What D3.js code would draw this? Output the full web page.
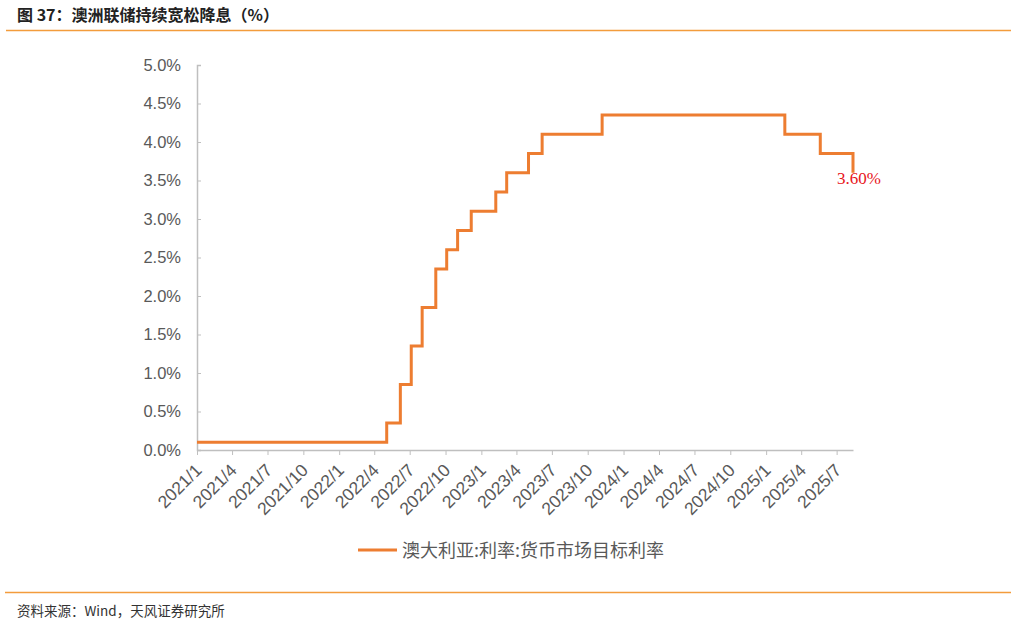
<!DOCTYPE html>
<html>
<head>
<meta charset="utf-8">
<script src="https://cdn.jsdelivr.net/npm/d3@7"></script>
<style>
  body { margin: 0; background: #fff; }
  svg { display: block; }
</style>
</head>
<body>
<svg id="chart" width="1017" height="621"></svg>
<script>
// ---- data ----
const title = "图 37：澳洲联储持续宽松降息（%）";
const source = "资料来源：Wind，天风证券研究所";
const seriesName = "澳大利亚:利率:货币市场目标利率";
// rate change dates and the cash-rate target (%) effective from each date
const changeDates = ["2021-01-01","2022-05-03","2022-06-07","2022-07-05","2022-08-02","2022-09-06","2022-10-04","2022-11-01","2022-12-06","2023-02-07","2023-03-07","2023-05-02","2023-06-06","2023-11-07","2025-02-18","2025-05-20","2025-08-12"];
const rates =       [0.10, 0.35, 0.85, 1.35, 1.85, 2.35, 2.60, 2.85, 3.10, 3.35, 3.60, 3.85, 4.10, 4.35, 4.10, 3.85, 3.60];
const yTicks = [0, 0.5, 1.0, 1.5, 2.0, 2.5, 3.0, 3.5, 4.0, 4.5, 5.0];
const xTickDates = ["2021-01-01","2021-04-01","2021-07-01","2021-10-01","2022-01-01","2022-04-01","2022-07-01","2022-10-01","2023-01-01","2023-04-01","2023-07-01","2023-10-01","2024-01-01","2024-04-01","2024-07-01","2024-10-01","2025-01-01","2025-04-01","2025-07-01"];
const lastLabel = "3.60%";

const parse = d3.utcParse("%Y-%m-%d");
const data = changeDates.map((d, i) => ({ date: parse(d), value: rates[i] }));

const svg = d3.select("#chart");
const orange = "#F39C3C";
const lineColor = "#ED7D31";
const textGray = "#595959";
const axisGray = "#BFBFBF";

// title + rules
svg.append("text").attr("x", 17).attr("y", 20.5)
  .attr("font-family", "'Noto Sans CJK SC', sans-serif").attr("font-weight", "bold")
  .attr("font-size", 16).attr("fill", "#222").text(title);
svg.append("line").attr("x1", 6).attr("x2", 1011).attr("y1", 30.5).attr("y2", 30.5)
  .attr("stroke", orange).attr("stroke-width", 1.5);
svg.append("line").attr("x1", 5).attr("x2", 1011).attr("y1", 592.5).attr("y2", 592.5)
  .attr("stroke", orange).attr("stroke-width", 1.5);
svg.append("text").attr("x", 17).attr("y", 616)
  .attr("font-family", "'Noto Sans CJK SC', sans-serif")
  .attr("font-size", 13.5).attr("fill", "#333").text(source);

// scales
const x = d3.scaleUtc().domain([parse("2021-01-01"), parse("2025-08-12")]).range([197, 853]);
const y = d3.scaleLinear().domain([0, 5]).range([450, 65]);

// y axis
const yAxis = svg.append("g").attr("transform", "translate(197,0)")
  .call(d3.axisLeft(y).tickValues(yTicks).tickSize(-4).tickPadding(16)
    .tickFormat(d => d3.format(".1f")(d) + "%"));
yAxis.select(".domain").attr("stroke", axisGray).attr("stroke-width", 1.5);
yAxis.selectAll(".tick line").attr("stroke", axisGray);
yAxis.selectAll(".tick text").attr("fill", textGray)
  .attr("font-family", "'Liberation Sans', Arial, sans-serif").attr("font-size", 16.5);

// x axis
const fmt = d => d.getUTCFullYear() + "/" + (d.getUTCMonth() + 1);
const xAxis = svg.append("g").attr("transform", "translate(0,450)")
  .call(d3.axisBottom(x).tickValues(xTickDates.map(parse)).tickSize(5).tickSizeOuter(0).tickFormat(fmt));
xAxis.select(".domain").attr("stroke", axisGray).attr("stroke-width", 1.5);
xAxis.selectAll(".tick line").attr("stroke", axisGray);
xAxis.selectAll(".tick text").attr("fill", textGray)
  .attr("font-family", "'Liberation Sans', Arial, sans-serif").attr("font-size", 17.5)
  .attr("text-anchor", "end")
  .attr("transform", "translate(1,17) rotate(-45)")
  .attr("dy", "0.35em").attr("y", 0).attr("x", 0);

// line
const line = d3.line().x(d => x(d.date)).y(d => y(d.value)).curve(d3.curveStepAfter);
svg.append("path").datum(data).attr("d", line)
  .attr("fill", "none").attr("stroke", lineColor).attr("stroke-width", 3);

// last value label
const last = data[data.length - 1];
svg.append("text").attr("x", x(last.date) - 16).attr("y", y(last.value) + 11)
  .attr("font-family", "'Liberation Serif', 'Times New Roman', serif")
  .attr("font-size", 17).attr("fill", "#E8141B").text(lastLabel);

// legend
svg.append("line").attr("x1", 358).attr("x2", 397).attr("y1", 550).attr("y2", 550)
  .attr("stroke", lineColor).attr("stroke-width", 3);
svg.append("text").attr("x", 402).attr("y", 556.5)
  .attr("font-family", "'Noto Sans CJK SC', sans-serif")
  .attr("font-size", 18).attr("fill", textGray).text(seriesName);
</script>
</body>
</html>
